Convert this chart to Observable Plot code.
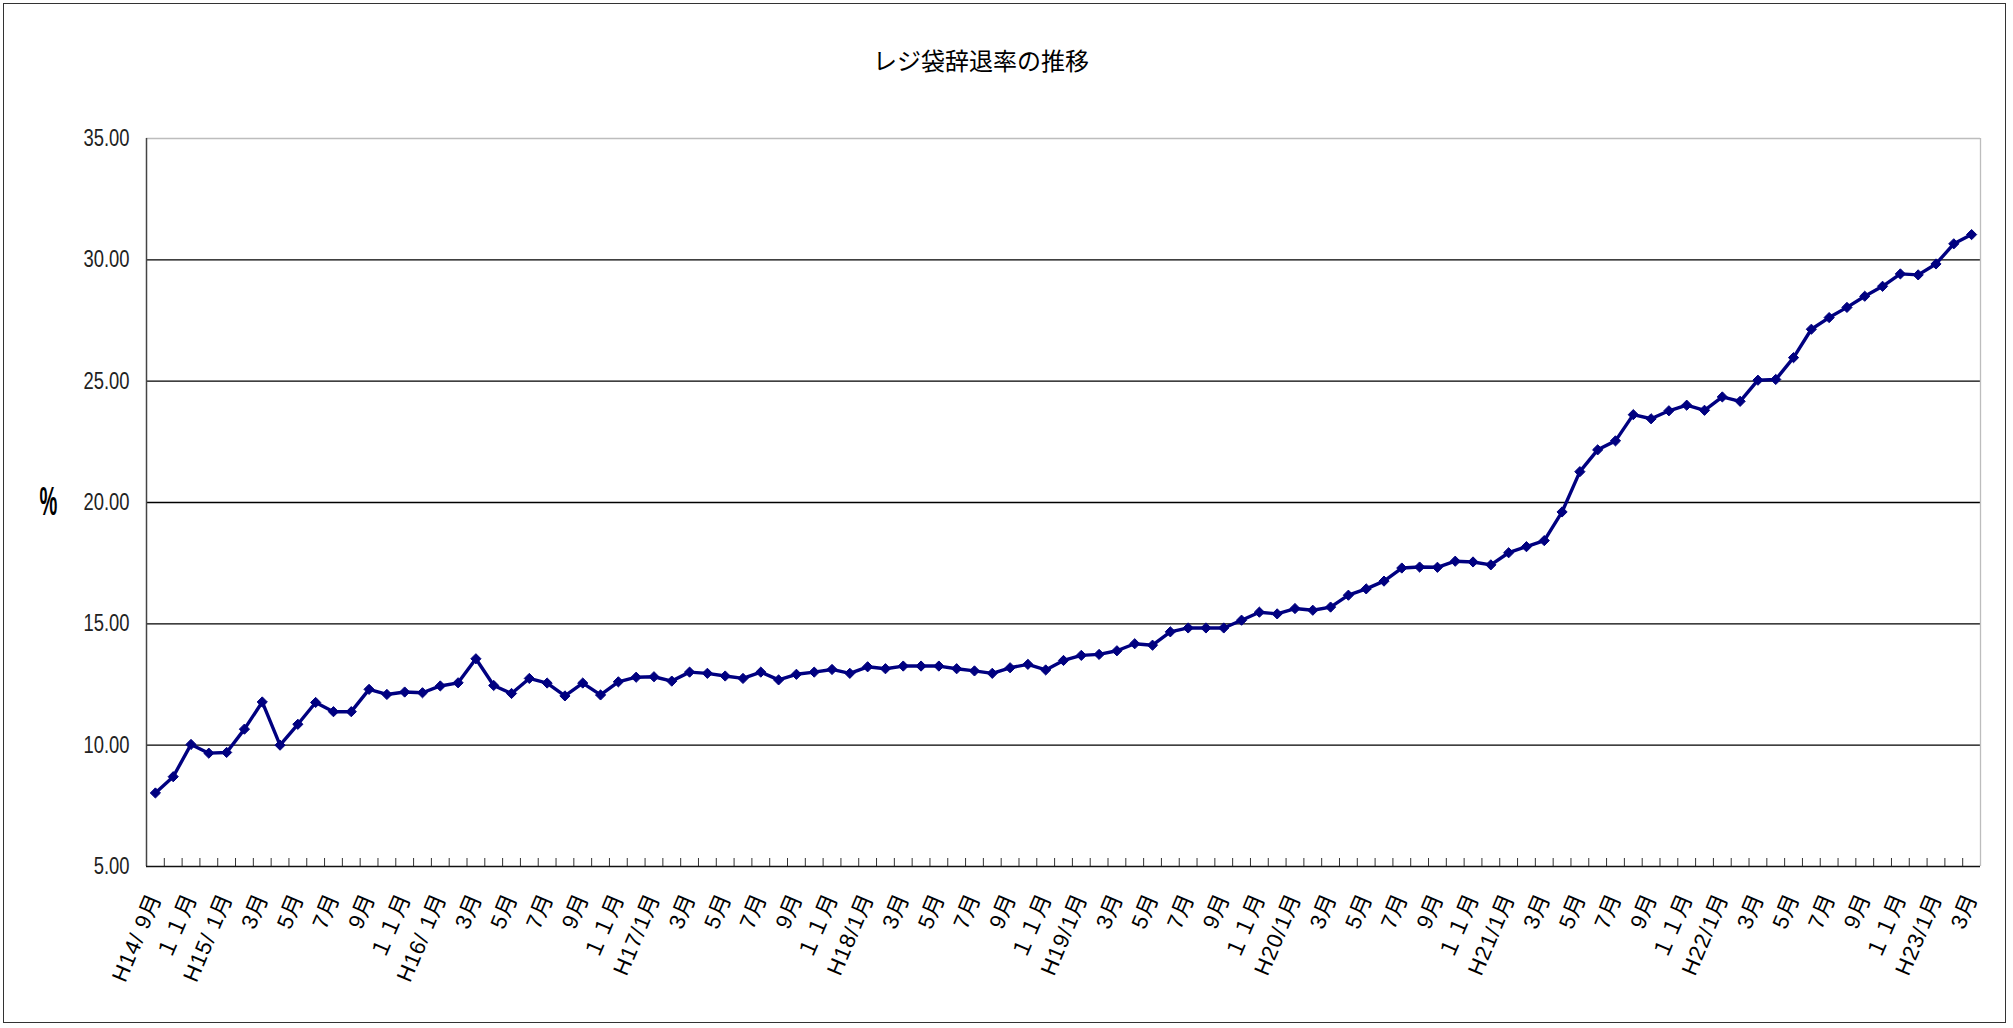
<!DOCTYPE html>
<html><head><meta charset="utf-8">
<script src="https://cdn.jsdelivr.net/npm/d3@7"></script>
<script src="https://cdn.jsdelivr.net/npm/@observablehq/plot@0.6"></script>
<style>
html,body{margin:0;padding:0;background:#fff;}
#wrap{position:relative;width:2013px;height:1028px;overflow:hidden;background:#fff;}
#chart{position:absolute;left:0;top:0;}
#frame{position:absolute;left:3px;top:3px;width:2003px;height:1020px;border:1.5px solid #333;box-sizing:border-box;pointer-events:none;}
#title{position:absolute;top:42px;left:0;width:1962px;text-align:center;font-family:"Noto Sans CJK JP",sans-serif;font-size:24px;color:#000;}
</style></head><body>
<div id="wrap"><div id="chart"></div><div id="frame"></div><div id="title">レジ袋辞退率の推移</div></div>
<script>
// Monthly values, H14/9 (Sep 2002) .. H23/3 (Mar 2011), in %
const values = [
  8.03, 8.70, 10.03, 9.67, 9.70, 10.66, 11.78, 10.00, 10.86, 11.76,
  11.38, 11.38, 12.30, 12.09, 12.19, 12.16, 12.44, 12.57, 13.56, 12.46,
  12.13, 12.75, 12.56, 12.03, 12.56, 12.07, 12.61, 12.80, 12.82, 12.64,
  13.01, 12.96, 12.85, 12.75, 13.01, 12.69, 12.92, 13.01, 13.12, 12.96,
  13.23, 13.15, 13.26, 13.26, 13.26, 13.15, 13.06, 12.96, 13.19, 13.33,
  13.10, 13.49, 13.70, 13.74, 13.89, 14.18, 14.12, 14.67, 14.83, 14.83,
  14.83, 15.15, 15.48, 15.41, 15.63, 15.56, 15.69, 16.18, 16.44, 16.76,
  17.30, 17.34, 17.33, 17.58, 17.55, 17.43, 17.93, 18.18, 18.43, 19.61,
  21.27, 22.17, 22.54, 23.62, 23.45, 23.78, 24.01, 23.80, 24.35, 24.17,
  25.04, 25.07, 25.97, 27.14, 27.62, 28.04, 28.50, 28.91, 29.42, 29.38,
  29.83, 30.66, 31.04
];
// Labels shown under every other month
const tickLabels = [
  "H14/ 9月","１１月","H15/ 1月","3月","5月","7月","9月","１１月",
  "H16/ 1月","3月","5月","7月","9月","１１月",
  "H17/1月","3月","5月","7月","9月","１１月",
  "H18/1月","3月","5月","7月","9月","１１月",
  "H19/1月","3月","5月","7月","9月","１１月",
  "H20/1月","3月","5月","7月","9月","１１月",
  "H21/1月","3月","5月","7月","9月","１１月",
  "H22/1月","3月","5月","7月","9月","１１月",
  "H23/1月","3月"
];
const yTicks = [5, 10, 15, 20, 25, 30, 35];
const gridLines = [10, 15, 20, 25, 30];
const yLabel = "%";

const n = values.length;
const data = values.map((v, i) => ({pos: i + 0.5, v}));
const labelPos = tickLabels.map((t, k) => 2 * k + 0.5);
const labelMap = new Map(labelPos.map((p, k) => [p, tickLabels[k]]));
const boundaries = d3.range(1, n);
const sans = '"Liberation Sans","Noto Sans CJK JP",sans-serif';

const chart = Plot.plot({
  width: 2013, height: 1028,
  marginLeft: 146, marginRight: 33, marginTop: 138, marginBottom: 162,
  x: {domain: [0, n], axis: null},
  y: {domain: [5, 35], axis: null},
  style: {background: "white", color: "black", fontFamily: sans, overflow: "visible"},
  marks: [
    Plot.ruleY(gridLines, {stroke: "#000", strokeWidth: 1.3}),
    Plot.ruleY([35], {stroke: "#bdbdbd", strokeWidth: 1.3}),
    Plot.ruleX([n], {stroke: "#bdbdbd", strokeWidth: 1.3}),
    Plot.axisY({ticks: yTicks, tickFormat: d => d.toFixed(2), tickSize: 0, tickPadding: 17, fontSize: 23, label: null, fill: "#222"}),
    Plot.axisX({ticks: boundaries, tickSize: -8, tickFormat: () => "", label: null, stroke: "#333"}),
    Plot.axisX({ticks: labelPos, tickSize: 0, tickRotate: -67, tickPadding: 28, tickFormat: d => labelMap.get(d), fontSize: 22, label: null}),
    Plot.ruleX([0], {stroke: "#444", strokeWidth: 1.5}),
    Plot.ruleY([5], {stroke: "#111", strokeWidth: 1.5}),
    Plot.line(data, {x: "pos", y: "v", stroke: "#000080", strokeWidth: 3.4}),
    Plot.dot(data, {x: "pos", y: "v", symbol: "diamond2", r: 4.6, fill: "#000080", stroke: "#000080", strokeWidth: 1}),
    Plot.text([yLabel], {text: d => d, frameAnchor: "left", dx: -107, fontSize: 40, fontWeight: "bold"})
  ]
});
document.getElementById("chart").appendChild(chart);

// horizontal condensing of text about each element's own anchor (x only)
function squeeze(sel, s) {
  d3.select(chart).selectAll(sel).each(function() {
    const t = this.getAttribute("transform") || "";
    let x = parseFloat(this.getAttribute("x"));
    if (!isFinite(x)) x = 0;
    this.setAttribute("transform", `${t} translate(${x},0) scale(${s},1) translate(${-x},0)`.trim());
  });
}
squeeze('g[aria-label="y-axis tick label"] text', 0.8);
squeeze('g[aria-label="text"] text', 0.5);
d3.select(chart).selectAll('g[aria-label="x-axis tick label"] text').style("letter-spacing", "1px");
</script>
</body></html>
